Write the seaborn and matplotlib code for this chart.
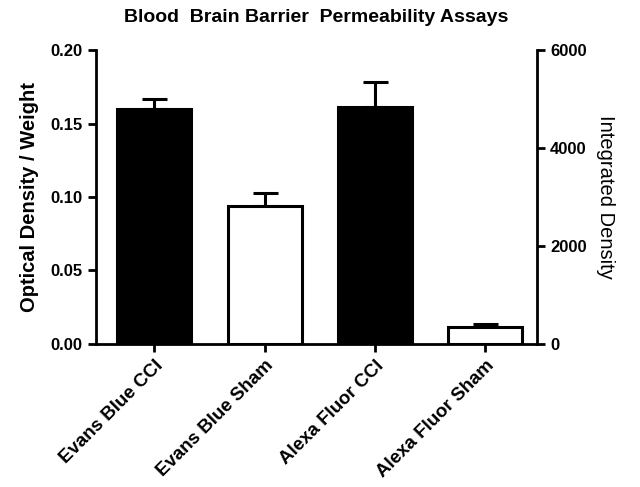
import numpy as np
import pandas as pd
import seaborn as sns
import matplotlib.pyplot as plt

categories = ["Evans Blue CCI", "Evans Blue Sham", "Alexa Fluor CCI", "Alexa Fluor Sham"]
od_values = [0.160, 0.094, np.nan, np.nan]      # left axis
od_err = [0.007, 0.009, np.nan, np.nan]
id_values = [np.nan, np.nan, 4830, 345]         # right axis
id_err = [np.nan, np.nan, 520, 70]
fills = ["black", "white", "black", "white"]

sns.set_style("ticks", {"text.color": "black", "axes.labelcolor": "black",
                        "xtick.color": "black", "ytick.color": "black",
                        "axes.edgecolor": "black"})
plt.rcParams['font.family'] = ['Liberation Sans', 'DejaVu Sans']

fig = plt.figure(figsize=(6.4, 4.87), dpi=100)
ax = fig.add_axes([0.15, 0.294, 0.689, 0.603])
ax2 = ax.twinx()

df = pd.DataFrame({"cat": categories, "od": od_values, "id": id_values})

sns.barplot(data=df, x="cat", y="od", order=categories, palette=fills, hue="cat",
            legend=False, width=0.67, edgecolor="black", linewidth=2.2, ax=ax, zorder=2)
sns.barplot(data=df, x="cat", y="id", order=categories, palette=fills, hue="cat",
            legend=False, width=0.67, edgecolor="black", linewidth=2.2, ax=ax2, zorder=2)

xs = np.arange(len(categories))
ax.errorbar(xs, od_values, yerr=[np.zeros(4), od_err], fmt="none", ecolor="black",
            elinewidth=2.2, capsize=9, capthick=2.2, zorder=1)
ax2.errorbar(xs, id_values, yerr=[np.zeros(4), id_err], fmt="none", ecolor="black",
             elinewidth=2.2, capsize=9, capthick=2.2, zorder=1)

ax.set_xlim(-0.53, 3.47)
ax.set_ylim(0, 0.2)
ax2.set_ylim(0, 6000)
ax.set_yticks([0, 0.05, 0.10, 0.15, 0.20])
ax.set_yticklabels(["0.00", "0.05", "0.10", "0.15", "0.20"])
ax2.set_yticks([0, 2000, 4000, 6000])

for a in (ax, ax2):
    for s in a.spines.values():
        s.set_linewidth(2)
        s.set_color("black")
    a.spines["top"].set_visible(False)
    a.tick_params(width=2, length=6, labelsize=12, direction="out", colors="black")
    for lab in a.get_yticklabels():
        lab.set_fontweight("bold")
ax.spines["right"].set_visible(False)
ax2.spines["left"].set_visible(False)
ax2.spines["bottom"].set_visible(False)

ax.set_xticks(xs)
ax.set_xticklabels(categories, rotation=45, ha="right", rotation_mode="anchor",
                   fontweight="bold", fontsize=13.5)
ax.set_xlabel("")
ax.set_ylabel("Optical Density / Weight", fontsize=14.5, fontweight="bold", labelpad=8)
ax2.set_ylabel("Integrated Density", fontsize=14.5, rotation=270, labelpad=20)
ax2.set_xlabel("")
ax.set_title("Blood  Brain Barrier  Permeability Assays", fontsize=14, fontweight="bold", pad=20)

fig.savefig("out.png", dpi=100)
